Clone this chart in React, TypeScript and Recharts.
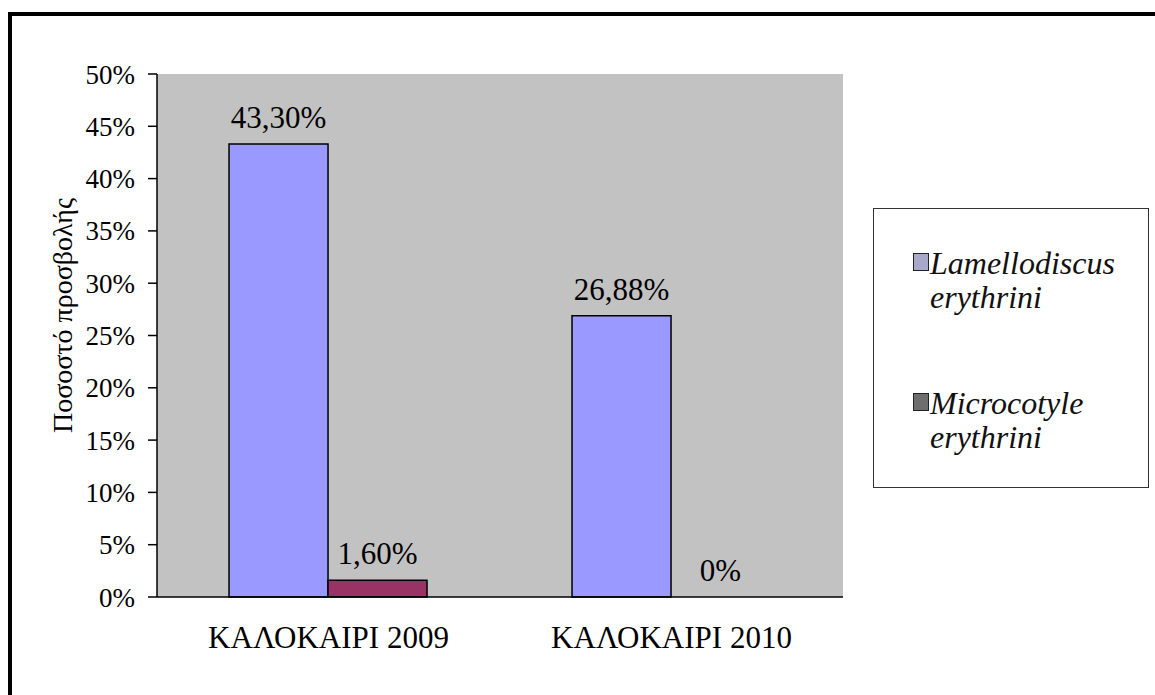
import { Bar, BarChart, CartesianGrid, Cell, Legend, XAxis, YAxis } from "recharts"

const categories = ["ΚΑΛΟΚΑΙΡΙ 2009", "ΚΑΛΟΚΑΙΡΙ 2010"]
const lamellodiscus = [43.3, 26.88]
const microcotyle = [1.6, 0]
const yTicks = [0, 5, 10, 15, 20, 25, 30, 35, 40, 45, 50]
const edgeTicks = [0, 1, 2]

const series = [
  { key: "lam", first: "Lamellodiscus", second: "erythrini", color: "#9999ff", swatch: "#a8a8c8" },
  { key: "mic", first: "Microcotyle", second: "erythrini", color: "#993366", swatch: "#6e6e6e" },
]

const data = categories.map((name, i) => ({
  name,
  lam: lamellodiscus[i],
  mic: microcotyle[i],
}))

const font = '"Liberation Serif", "Times New Roman", serif'

const pct = (v: any) => (Number(v) === 0 ? "0%" : `${Number(v).toFixed(2).replace(".", ",")}%`)

// label drawn above each bar (also for the 0 value)
const barLabel = (props: any) => {
  const { x, y, width, value } = props
  return (
    <text
      x={Number(x) + Number(width) / 2}
      y={Number(y) - 16}
      textAnchor="middle"
      fontSize={31}
      fontFamily={font}
      fill="#000"
    >
      {pct(value)}
    </text>
  )
}

function LegendBox() {
  return (
    <div
      style={{
        width: 276,
        height: 280,
        boxSizing: "border-box",
        border: "1px solid #333",
        background: "#fff",
        paddingTop: 37,
        paddingLeft: 39,
        fontFamily: font,
        fontStyle: "italic",
        fontSize: 32,
        lineHeight: "34px",
        color: "#111",
      }}
    >
      {series.map((s, i) => (
        <div key={s.key} style={{ display: "flex", marginTop: i === 0 ? 0 : 72 }}>
          <div
            style={{
              width: 14,
              height: 16,
              marginTop: 7,
              border: "1.5px solid #222",
              background: s.swatch,
              flex: "none",
            }}
          />
          <div style={{ marginLeft: 1 }}>
            <div>{s.first}</div>
            <div>{s.second}</div>
          </div>
        </div>
      ))}
    </div>
  )
}

export default function App() {
  return (
    <>
      <style>{`body{margin:0;overflow:hidden;background:#fff}`}</style>
      <div
        style={{
          position: "absolute",
          left: 8,
          top: 12,
          width: 1147,
          height: 683,
          boxSizing: "border-box",
          borderTop: "4px solid #000",
          borderLeft: "4px solid #000",
        }}
      >
        <BarChart
          width={1143}
          height={679}
          data={data}
          margin={{ top: 58, right: 312, bottom: 38, left: 20 }}
          barCategoryGap="21%"
          barGap={0}
        >
          <CartesianGrid xAxisId="cat" horizontal={false} vertical={false} fill="#c2c2c2" />
          <XAxis
            xAxisId="edge"
            type="number"
            domain={[0, 2]}
            ticks={edgeTicks}
            tick={false}
            height={0}
            axisLine={false}
            tickSize={8}
            tickLine={{ stroke: "#000", strokeWidth: 1.5 }}
          />
          <XAxis
            xAxisId="cat"
            dataKey="name"
            height={60}
            tickLine={false}
            tickSize={0}
            tickMargin={29}
            axisLine={{ stroke: "#000", strokeWidth: 1.5 }}
            tick={{ fill: "#000", fontSize: 31, fontFamily: font }}
          />
          <YAxis
            width={125}
            domain={[0, 50]}
            ticks={yTicks}
            tickFormatter={(v) => `${v}%`}
            tickSize={9}
            tickMargin={13}
            axisLine={{ stroke: "#000", strokeWidth: 1.5 }}
            tickLine={{ stroke: "#000", strokeWidth: 1.5 }}
            tick={{ fill: "#000", fontSize: 27, fontFamily: font }}
            label={{
              content: (props: any) => {
                const vb = props.viewBox
                const x = vb.x + 40
                const y = vb.y + vb.height / 2 - 20
                return (
                  <text
                    x={x}
                    y={y}
                    textAnchor="middle"
                    transform={`rotate(-90 ${x} ${y})`}
                    fontSize={28}
                    fontFamily={font}
                    fill="#000"
                  >
                    Ποσοστό προσβολής
                  </text>
                )
              },
            }}
          />
          <Legend
            layout="vertical"
            align="center"
            verticalAlign="middle"
            content={() => <LegendBox />}
            wrapperStyle={{ left: 861, top: 192, width: 276, height: 280 }}
          />
          {series.map((s) => (
            <Bar
              key={s.key}
              xAxisId="cat"
              dataKey={s.key}
              fill={s.color}
              stroke="#000"
              strokeWidth={1.5}
              minPointSize={(v: any) => (Number(v) === 0 ? 0.5 : 0)}
              label={barLabel}
              isAnimationActive={false}
            >
              {data.map((d, i) => {
                const zero = Number((d as any)[s.key]) === 0
                return (
                  <Cell
                    key={i}
                    fill={zero ? "none" : s.color}
                    stroke={zero ? "none" : "#000"}
                  />
                )
              })}
            </Bar>
          ))}
        </BarChart>
      </div>
    </>
  )
}
